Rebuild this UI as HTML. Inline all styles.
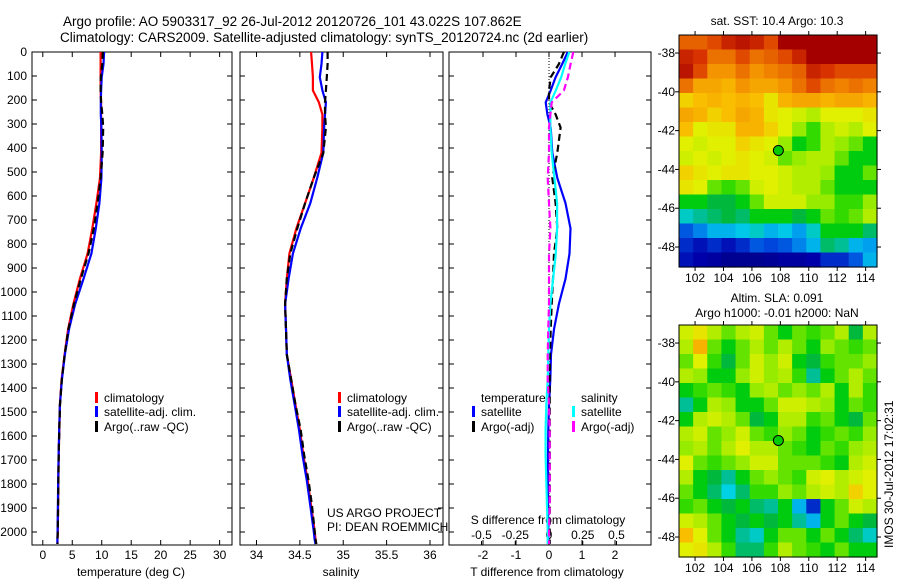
<!DOCTYPE html>
<html><head><meta charset="utf-8"><style>
html,body{margin:0;padding:0;background:#fff}
svg{display:block;font-family:"Liberation Sans",sans-serif}
</style></head><body>
<svg id="fig" width="900" height="580" viewBox="0 0 900 580" xmlns="http://www.w3.org/2000/svg">
<text x="63" y="26" font-size="13.5">Argo profile: AO 5903317_92 26-Jul-2012 20120726_101 43.022S 107.862E</text>
<text x="60" y="42" font-size="13.5">Climatology: CARS2009. Satellite-adjusted climatology: synTS_20120724.nc (2d earlier)</text>
<text x="777" y="25" font-size="12" text-anchor="middle">sat. SST: 10.4  Argo: 10.3</text>
<text x="777" y="302" font-size="12" text-anchor="middle">Altim. SLA: 0.091</text>
<text x="777" y="317" font-size="12" text-anchor="middle">Argo h1000: -0.01 h2000: NaN</text>
<text transform="translate(893,548) rotate(-90)" font-size="12">IMOS 30-Jul-2012 17:02:31</text>
<g id="g"></g>
</svg>
<script>
const depths=[0,50,105,160,210,260,315,420,525,630,735,840,945,1050,1155,1260,1365,1470,1575,1680,1785,1890,1995,2030,2050];
const tClim=[9.8,9.8,9.8,9.8,9.9,9.9,9.9,9.9,9.7,9.1,8.4,7.6,6.3,5.2,4.3,3.7,3.2,2.9,2.8,2.7,2.65,2.6,2.55,2.5,2.5];
const tSat=[10.4,10.3,10.0,9.9,9.85,9.85,9.95,10.0,9.95,9.6,9.0,8.25,6.9,5.5,4.45,3.75,3.24,2.9,2.78,2.68,2.62,2.57,2.52,2.48,2.48];
const tArgo=[10.2,10.1,9.85,9.8,9.9,10.1,10.25,10.15,9.8,9.3,8.65,7.75,6.45,5.3,4.35,3.72,3.22,2.92,2.8,2.7,2.65,2.6,2.55,2.5,2.5];
const sClim=[34.63,34.64,34.65,34.65,34.72,34.76,34.76,34.75,34.66,34.56,34.46,34.38,34.35,34.33,34.34,34.35,34.40,34.45,34.50,34.54,34.59,34.63,34.67,34.68,34.69];
const sSat=[34.76,34.75,34.73,34.76,34.80,34.79,34.78,34.77,34.70,34.62,34.51,34.42,34.37,34.33,34.34,34.35,34.39,34.44,34.49,34.53,34.58,34.62,34.66,34.67,34.68];
const sArgo=[34.82,34.82,34.81,34.80,34.79,34.79,34.80,34.77,34.66,34.56,34.47,34.39,34.35,34.33,34.34,34.35,34.40,34.45,34.51,34.55,34.60,34.64,34.67,34.68,34.69];
const dTsat=[0.57,0.4,0.2,0.05,-0.1,-0.05,0.05,0.1,0.25,0.5,0.65,0.62,0.5,0.3,0.15,0.06,0.04,0.0,-0.02,-0.03,-0.03,-0.03,-0.02,-0.02,-0.02];
const dTargo=[0.45,0.3,0.05,0.0,0.0,0.2,0.35,0.25,0.1,0.2,0.25,0.15,0.12,0.08,0.05,0.03,0.02,0.02,0.02,0.02,0.02,0.02,0.02,0.02,0.02];
const dSsat=[0.15,0.12,0.09,0.05,0.01,0.01,0.01,0.02,0.04,0.06,0.06,0.05,0.03,0.01,0.0,-0.005,-0.01,-0.02,-0.025,-0.025,-0.02,-0.015,-0.01,-0.01,-0.01];
const dSargo=[0.18,0.16,0.14,0.11,0.02,0.01,0.0,0.0,-0.01,0.0,0.01,0.0,0.0,0.0,-0.005,-0.01,-0.01,0.0,0.005,0.005,0.005,0.005,0.0,0.0,0.0];
const depthTicks=[0,100,200,300,400,500,600,700,800,900,1000,1100,1200,1300,1400,1500,1600,1700,1800,1900,2000];
const tTicks=[0,5,10,15,20,25,30];
const sTicks=[34,34.5,35,35.5,36];
const sTickLabels=["34","34.5","35","35.5","36"];
const dtTicks=[-2,-1,0,1,2];
const dsTicks=[-0.5,-0.25,0,0.25,0.5];
const dsTickLabels=["-0.5","-0.25","0","0.25","0.5"];
const sstGrid=[
[0.82,0.82,0.85,0.9,0.92,0.9,0.85,0.95,0.95,0.95,0.95,0.95,0.95,0.95],
[0.9,0.88,0.8,0.8,0.85,0.8,0.82,0.85,0.9,0.95,0.95,0.95,0.95,0.95],
[0.92,0.85,0.75,0.75,0.8,0.75,0.78,0.8,0.82,0.9,0.88,0.85,0.85,0.85],
[0.8,0.72,0.72,0.7,0.75,0.72,0.72,0.75,0.8,0.85,0.8,0.78,0.8,0.78],
[0.65,0.68,0.7,0.68,0.7,0.68,0.62,0.7,0.72,0.72,0.7,0.72,0.72,0.7],
[0.72,0.7,0.65,0.68,0.72,0.7,0.62,0.6,0.58,0.55,0.6,0.6,0.6,0.62],
[0.68,0.6,0.62,0.62,0.7,0.7,0.65,0.6,0.52,0.48,0.55,0.58,0.55,0.6],
[0.6,0.58,0.6,0.6,0.65,0.62,0.6,0.52,0.45,0.48,0.55,0.52,0.5,0.45],
[0.58,0.6,0.58,0.6,0.62,0.6,0.58,0.5,0.52,0.55,0.55,0.5,0.45,0.45],
[0.65,0.62,0.6,0.62,0.62,0.6,0.6,0.58,0.55,0.55,0.52,0.45,0.45,0.5],
[0.62,0.6,0.5,0.48,0.5,0.58,0.6,0.58,0.55,0.55,0.5,0.45,0.45,0.45],
[0.45,0.45,0.42,0.42,0.45,0.5,0.58,0.58,0.58,0.52,0.52,0.48,0.48,0.52],
[0.35,0.38,0.4,0.42,0.4,0.45,0.45,0.45,0.42,0.45,0.5,0.48,0.5,0.55],
[0.2,0.25,0.3,0.3,0.32,0.35,0.3,0.32,0.28,0.35,0.45,0.45,0.45,0.4],
[0.15,0.12,0.15,0.12,0.15,0.2,0.18,0.2,0.25,0.3,0.4,0.38,0.3,0.28],
[0.12,0.1,0.08,0.05,0.05,0.05,0.06,0.08,0.08,0.1,0.15,0.15,0.2,0.3]];
const slaGrid=[
[0.58,0.62,0.55,0.5,0.55,0.58,0.5,0.45,0.5,0.48,0.5,0.55,0.42,0.55],
[0.55,0.7,0.5,0.45,0.5,0.55,0.5,0.55,0.5,0.45,0.52,0.5,0.48,0.5],
[0.5,0.6,0.48,0.42,0.5,0.58,0.52,0.58,0.45,0.42,0.48,0.5,0.5,0.52],
[0.55,0.52,0.45,0.45,0.52,0.58,0.52,0.55,0.48,0.38,0.45,0.5,0.55,0.5],
[0.45,0.48,0.5,0.48,0.45,0.52,0.55,0.5,0.52,0.5,0.55,0.45,0.55,0.48],
[0.38,0.45,0.55,0.52,0.45,0.45,0.5,0.58,0.58,0.55,0.52,0.45,0.5,0.48],
[0.45,0.55,0.58,0.55,0.5,0.42,0.45,0.55,0.55,0.48,0.5,0.45,0.42,0.5],
[0.55,0.58,0.5,0.52,0.58,0.5,0.48,0.52,0.5,0.45,0.48,0.5,0.48,0.52],
[0.52,0.55,0.5,0.55,0.6,0.55,0.55,0.5,0.48,0.45,0.5,0.48,0.52,0.55],
[0.6,0.5,0.48,0.5,0.52,0.58,0.58,0.5,0.5,0.5,0.48,0.45,0.55,0.58],
[0.55,0.45,0.42,0.38,0.45,0.5,0.52,0.5,0.48,0.58,0.6,0.55,0.58,0.6],
[0.5,0.45,0.4,0.33,0.4,0.48,0.48,0.52,0.5,0.55,0.58,0.55,0.65,0.6],
[0.48,0.5,0.45,0.42,0.45,0.4,0.38,0.45,0.3,0.15,0.45,0.5,0.58,0.55],
[0.58,0.55,0.5,0.45,0.42,0.45,0.42,0.45,0.38,0.3,0.45,0.5,0.45,0.42],
[0.68,0.6,0.5,0.45,0.38,0.35,0.45,0.5,0.5,0.45,0.5,0.45,0.4,0.35],
[0.6,0.62,0.55,0.48,0.4,0.4,0.48,0.55,0.5,0.48,0.45,0.5,0.45,0.45]];
const latTicks=[-38,-40,-42,-44,-46,-48];
const lonTicks=[102,104,106,108,110,112,114];
const argoLon=107.862, argoLat=-43.022;

const NS="http://www.w3.org/2000/svg";
const G=document.getElementById('g');
function mk(tag,attrs,parent){const e=document.createElementNS(NS,tag);for(const k in attrs)e.setAttribute(k,attrs[k]);(parent||G).appendChild(e);return e;}
function txt(s,x,y,anchor,size){const e=mk('text',{x:x,y:y,'text-anchor':anchor||'start','font-size':size||12});e.textContent=s;return e;}
const Y0=52, YS=0.24, YBOT=545;
const yD=d=>Y0+d*YS;
const panels=[{l:32,r:232,min:-1.83,max:32.1,name:'temperature-panel'},{l:240,r:443,min:33.81,max:36.15,name:'salinity-panel'},{l:449,r:651,min:-3.03,max:3.09,name:'difference-panel'}];
panels.forEach(p=>{p.x=v=>p.l+(v-p.min)/(p.max-p.min)*(p.r-p.l);});
const P1=panels[0],P2=panels[1],P3=panels[2];
const xS3=v=>P3.x(0)+v*135;

function line(vals,xf,color,dash,name){
  let d='';vals.forEach((v,i)=>{d+=(i?'L':'M')+xf(v).toFixed(1)+','+yD(depths[i]).toFixed(1);});
  const e=mk('path',{d:d,fill:'none',stroke:color,'stroke-width':2.2,'stroke-linejoin':'round'});
  if(dash)e.setAttribute('stroke-dasharray',dash);
  
  
}
panels.forEach((p,pi)=>{
  const fr=mk('rect',{x:p.l,y:Y0,width:p.r-p.l,height:YBOT-Y0,fill:'none',stroke:'#000','stroke-width':1});
  
  
  depthTicks.forEach(d=>{
    mk('line',{x1:p.l,x2:p.l+5,y1:yD(d),y2:yD(d),stroke:'#000'});
    mk('line',{x1:p.r,x2:p.r-5,y1:yD(d),y2:yD(d),stroke:'#000'});
    if(pi===0){
      const t=txt(String(d),27,yD(d)+4,'end',12);
      
      
    }
  });
});
function xTicks(vals,labels,xf,name){
  vals.forEach((v,i)=>{
    const x=xf(v);
    mk('line',{x1:x,x2:x,y1:YBOT,y2:YBOT-5,stroke:'#000'});
    mk('line',{x1:x,x2:x,y1:Y0,y2:Y0+5,stroke:'#000'});
    const t=txt(labels[i],x,559,'middle',12);
    
    
  });
}
xTicks(tTicks,tTicks.map(String),P1.x,'temperature-tick-label');
xTicks(sTicks,sTickLabels,P2.x,'salinity-tick-label');
xTicks(dtTicks,dtTicks.map(String),P3.x,'t-diff-tick-label');
dsTicks.forEach((v,i)=>{
  const x=xS3(v);
  mk('line',{x1:x,x2:x,y1:YBOT,y2:YBOT-4,stroke:'#000'});
  const t=txt(dsTickLabels[i],x,539,'middle',12);
  
  
});
let t;
t=txt('temperature (deg C)',131,576,'middle',12);
t=txt('salinity',341,576,'middle',12);
t=txt('T difference from climatology',547,576,'middle',12);
t=txt('S difference from climatology',548,524,'middle',12);
t=txt('US ARGO PROJECT',327,517,'start',12);
t=txt('PI: DEAN ROEMMICH',327,531,'start',12);

const zl=mk('line',{x1:P3.x(0),x2:P3.x(0),y1:Y0,y2:YBOT,stroke:'#000','stroke-dasharray':'1,2'});



line(tClim,P1.x,'#f00',null,'temp-climatology-line');
line(tSat,P1.x,'#00f',null,'temp-satellite-line');
line(tArgo,P1.x,'#000','7,4','temp-argo-line');
line(sClim,P2.x,'#f00',null,'sal-climatology-line');
line(sSat,P2.x,'#00f',null,'sal-satellite-line');
line(sArgo,P2.x,'#000','7,4','sal-argo-line');
line(dTsat,P3.x,'#00f',null,'t-diff-satellite-line');
line(dTargo,P3.x,'#000','7,4','t-diff-argo-line');
line(dSsat,xS3,'#0ff',null,'s-diff-satellite-line');
line(dSargo,xS3,'#f0f','7,4','s-diff-argo-line');

function legend(x,y,color,label,name){
  const b=mk('rect',{x:x,y:y-10,width:3,height:11,fill:color});
  
  
  const tt=txt(label,x+9,y,'start',12);
  
  
}
legend(95,402,'#f00','climatology','legend-climatology');
legend(95,416,'#00f','satellite-adj. clim.','legend-satellite');
legend(95,431,'#000','Argo(..raw -QC)','legend-argo');
legend(338,402,'#f00','climatology','legend-climatology-2');
legend(338,416,'#00f','satellite-adj. clim.','legend-satellite-2');
legend(338,431,'#000','Argo(..raw -QC)','legend-argo-2');
t=txt('temperature',481,402,'start',12);
t=txt('salinity',581,402,'start',12);
legend(472,416,'#00f','satellite','legend-t-satellite');
legend(472,431,'#000','Argo(-adj)','legend-t-argo');
legend(572,416,'#0ff','satellite','legend-s-satellite');
legend(572,431,'#f0f','Argo(-adj)','legend-s-argo');

const cmapStops=[[0,0,0,120],[0.1,0,0,170],[0.18,0,70,220],[0.27,0,150,240],[0.33,0,210,230],[0.38,0,190,150],[0.42,0,185,60],[0.46,0,210,0],[0.52,150,235,0],[0.6,225,240,0],[0.68,250,190,0],[0.78,240,130,0],[0.88,215,50,0],[0.95,165,0,0],[1,150,0,0]];
function cmap(v){
  for(let k=1;k<cmapStops.length;k++){
    const a=cmapStops[k-1],b=cmapStops[k];
    if(v<=b[0]){const f=(v-a[0])/(b[0]-a[0]);
      return 'rgb('+[1,2,3].map(i=>Math.round(a[i]+f*(b[i]-a[i]))).join(',')+')';}
  }
  return 'rgb(150,0,0)';
}
const LON0=100.87,LON1=114.8,LAT0=-37.07,LAT1=-49.03;
function drawMap(grid,top,bot,name){
  const L=679,R=877;
  const xL=lon=>L+(lon-LON0)/(LON1-LON0)*(R-L);
  const yL=lat=>top+(LAT0-lat)/(LAT0-LAT1)*(bot-top);
  const rows=grid.length,cols=grid[0].length;
  const cw=(R-L)/cols,ch=(bot-top)/rows;
  grid.forEach((row,j)=>row.forEach((v,i)=>{
    const c=mk('rect',{x:(L+i*cw).toFixed(2),y:(top+j*ch).toFixed(2),width:(cw+0.6).toFixed(2),height:(ch+0.6).toFixed(2),fill:cmap(v)});
    
    
  }));
  const f=mk('rect',{x:L,y:top,width:R-L,height:bot-top,fill:'none',stroke:'#000'});
  
  
  latTicks.forEach(lat=>{
    const y=yL(lat);
    mk('line',{x1:L-4,x2:L,y1:y,y2:y,stroke:'#000'});
    mk('line',{x1:R,x2:R+4,y1:y,y2:y,stroke:'#000'});
    const tt=txt(String(lat),675,y+4,'end',12);
    
    
  });
  lonTicks.forEach(lon=>{
    const x=xL(lon);
    mk('line',{x1:x,x2:x,y1:top-4,y2:top,stroke:'#000'});
    mk('line',{x1:x,x2:x,y1:bot,y2:bot+4,stroke:'#000'});
    const tt=txt(String(lon),x,bot+15,'middle',12);
    
    
  });
  const m=mk('circle',{cx:xL(argoLon),cy:yL(argoLat),r:5,fill:'#0c0',stroke:'#000','stroke-width':1});
  
  
}
drawMap(sstGrid,35,267,'sst-map');
drawMap(slaGrid,325,557,'sla-map');
</script>
</body></html>
